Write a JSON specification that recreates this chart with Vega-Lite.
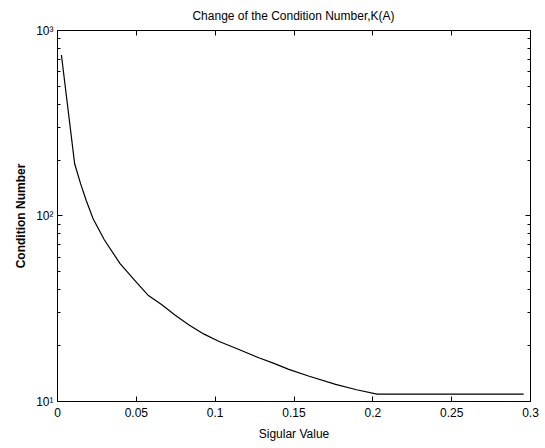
{
  "$schema": "https://vega.github.io/schema/vega-lite/v6.json",
  "autosize": {"type": "none"},
  "padding": {"left": 57, "top": 30, "right": 15, "bottom": 47},
  "width": 473,
  "height": 371,
  "background": "white",
  "title": {"text": "Change of the Condition Number,K(A)", "fontSize": 12, "fontWeight": "normal", "font": "Liberation Sans", "anchor": "middle", "offset": 1, "color": "black"},
  "config": {
    "view": {"stroke": null},
    "axis": {"labelFont": "Liberation Sans", "titleFont": "Liberation Sans", "labelFontSize": 12, "titleFontSize": 12, "labelColor": "black", "titleColor": "black", "domainColor": "black", "tickColor": "black", "grid": false, "domainWidth": 1, "tickWidth": 1}
  },
  "data": {"values": [
    {"s": 0.0028, "k": 733},
    {"s": 0.0112, "k": 190},
    {"s": 0.0150, "k": 148},
    {"s": 0.0186, "k": 120},
    {"s": 0.0229, "k": 96},
    {"s": 0.030, "k": 74},
    {"s": 0.040, "k": 55},
    {"s": 0.050, "k": 44},
    {"s": 0.058, "k": 37},
    {"s": 0.0665, "k": 33},
    {"s": 0.075, "k": 29},
    {"s": 0.0835, "k": 25.8},
    {"s": 0.093, "k": 23},
    {"s": 0.1025, "k": 21},
    {"s": 0.115, "k": 19},
    {"s": 0.128, "k": 17.1},
    {"s": 0.138, "k": 15.9},
    {"s": 0.147, "k": 14.8},
    {"s": 0.160, "k": 13.6},
    {"s": 0.1767, "k": 12.3},
    {"s": 0.190, "k": 11.5},
    {"s": 0.203, "k": 10.9},
    {"s": 0.250, "k": 10.9},
    {"s": 0.296, "k": 10.9}
  ]},
  "encoding": {
    "x": {"field": "s", "type": "quantitative", "scale": {"domain": [0, 0.3], "nice": false, "zero": false}},
    "y": {"field": "k", "type": "quantitative", "scale": {"type": "log", "domain": [10, 1000], "nice": false}}
  },
  "layer": [
    {
      "mark": {"type": "line", "color": "black", "strokeWidth": 1.2},
      "encoding": {
        "x": {"field": "s", "type": "quantitative", "axis": {"orient": "bottom", "title": "Sigular Value", "titleFontWeight": "normal", "values": [0, 0.05, 0.1, 0.15, 0.2, 0.25, 0.3], "format": "~g", "tickSize": -5, "labelPadding": 11, "titlePadding": 10, "labelFlush": false}},
        "y": {"field": "k", "type": "quantitative", "axis": {"orient": "left", "title": "Condition Number", "titleFontWeight": "bold", "values": [10, 20, 30, 40, 50, 60, 70, 80, 90, 100, 200, 300, 400, 500, 600, 700, 800, 900, 1000], "labelExpr": "datum.value == 1000 ? '10³' : datum.value == 100 ? '10²' : datum.value == 10 ? '10¹' : ''", "tickSize": {"condition": {"test": "datum.value == 10 || datum.value == 100 || datum.value == 1000", "value": -5}, "value": -3}, "labelPadding": 9, "titlePadding": 8, "labelFlush": false}}
      }
    },
    {
      "mark": {"type": "line", "strokeOpacity": 0},
      "encoding": {
        "x": {"field": "s", "type": "quantitative", "axis": {"orient": "top", "title": null, "labels": false, "values": [0, 0.05, 0.1, 0.15, 0.2, 0.25, 0.3], "tickSize": -5}},
        "y": {"field": "k", "type": "quantitative", "axis": {"orient": "right", "title": null, "labels": false, "values": [10, 20, 30, 40, 50, 60, 70, 80, 90, 100, 200, 300, 400, 500, 600, 700, 800, 900, 1000], "tickSize": {"condition": {"test": "datum.value == 10 || datum.value == 100 || datum.value == 1000", "value": -5}, "value": -3}}}
      }
    }
  ],
  "resolve": {"axis": {"x": "independent", "y": "independent"}}
}
